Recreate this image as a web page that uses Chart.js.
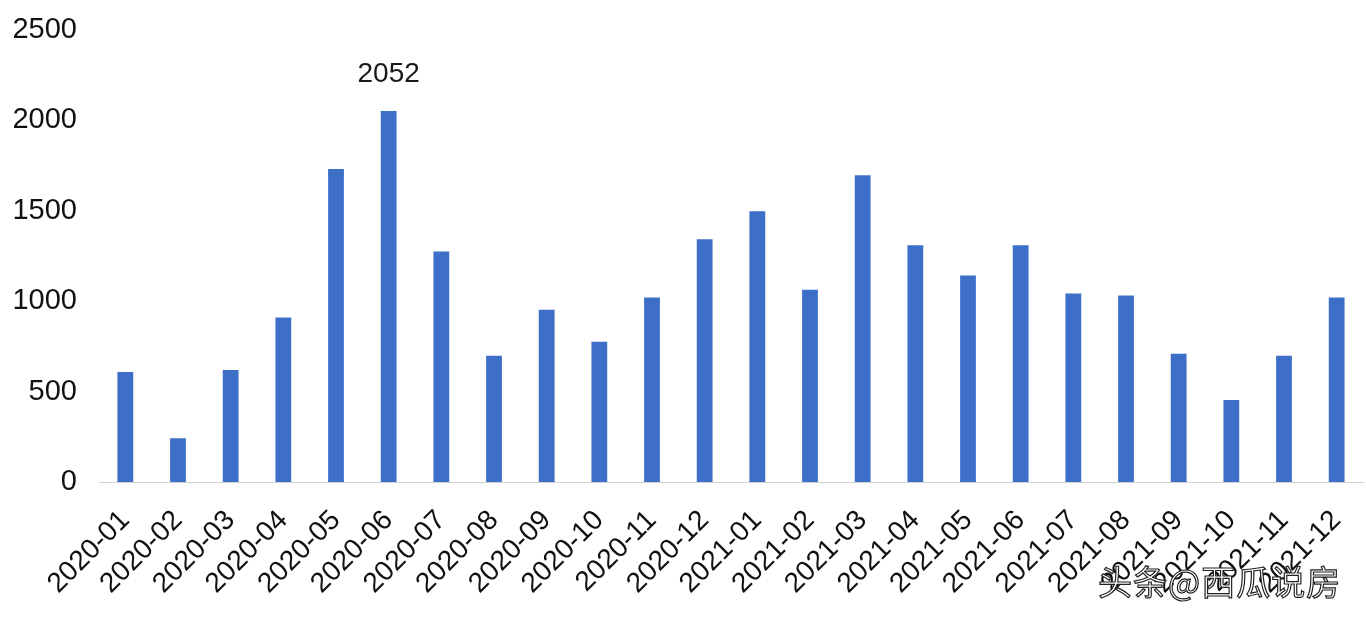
<!DOCTYPE html>
<html>
<head>
<meta charset="utf-8">
<script src="https://cdn.jsdelivr.net/npm/chart.js@4/dist/chart.umd.min.js"></script>
<style>
    html, body { margin: 0; padding: 0; background: #ffffff; }
    #wrap { position: relative; width: 1366px; height: 620px; }
    #mark {
        position: absolute; left: 1098px; top: 556px;
        font-family: "Noto Sans CJK SC", sans-serif; font-size: 34px;
        color: #ffffff; -webkit-text-stroke: 1.2px #222222;
        letter-spacing: 1px; white-space: nowrap;
    }
</style>
</head>
<body>
<div id="wrap">
    <canvas id="salesChart" width="1366" height="620"></canvas>
    <div id="mark">头条@西瓜说房</div>
</div>
<script>
const months = ['2020-01','2020-02','2020-03','2020-04','2020-05','2020-06',
                '2020-07','2020-08','2020-09','2020-10','2020-11','2020-12',
                '2021-01','2021-02','2021-03','2021-04','2021-05','2021-06',
                '2021-07','2021-08','2021-09','2021-10','2021-11','2021-12'];
const values = [609, 242, 620, 910, 1731, 2052, 1275, 698, 953, 776, 1020, 1342,
                1497, 1064, 1697, 1309, 1142, 1309, 1042, 1031, 709, 453, 698, 1020];
const labeledIndex = [5];   // only the peak carries a value label
const yMax = 2500;
const yStep = 500;

const font = "Liberation Sans, Arial, sans-serif";

// value label above the peak bar
const peakLabel = {
    id: 'peakLabel',
    afterDatasetsDraw(chart) {
        const ctx = chart.ctx;
        const meta = chart.getDatasetMeta(0);
        ctx.save();
        ctx.font = '28px ' + font;
        ctx.fillStyle = '#1a1a1a';
        ctx.textAlign = 'center';
        ctx.textBaseline = 'bottom';
        labeledIndex.forEach(function (i) {
            const bar = meta.data[i];
            ctx.fillText(String(values[i]), bar.x, bar.y - 23);
        });
        ctx.restore();
    }
};

const ctx = document.getElementById('salesChart').getContext('2d');
new Chart(ctx, {
    type: 'bar',
    data: {
        labels: months,
        datasets: [{
            data: values,
            backgroundColor: '#3d6fc8',
            categoryPercentage: 1,
            barPercentage: 0.3
        }]
    },
    options: {
        responsive: false,
        animation: false,
        layout: { padding: { top: 30, right: 3, left: 0, bottom: 0 } },
        plugins: { legend: { display: false }, tooltip: { enabled: false } },
        scales: {
            x: {
                grid: { display: false, drawTicks: false },
                border: { display: true, color: '#d0d0d0', width: 1 },
                ticks: {
                    autoSkip: false, minRotation: 45, maxRotation: 45,
                    padding: 22, color: '#111111',
                    font: { family: font, size: 28 }
                },
                afterFit(scale) {
                    scale.height = 138;
                    scale.paddingLeft = 0;
                    scale.paddingRight = 0;
                }
            },
            y: {
                min: 0, max: yMax,
                grid: { display: false, drawTicks: false },
                border: { display: false },
                ticks: {
                    stepSize: yStep, padding: 22, color: '#111111',
                    font: { family: font, size: 29 },
                    callback: function (v) { return String(v); }
                },
                afterFit(scale) {
                    scale.width = 99;
                    // let layout padding decide the top, not the tick padding
                    scale.paddingTop = 0;
                    scale.paddingBottom = 0;
                }
            }
        }
    },
    plugins: [peakLabel]
});
</script>
</body>
</html>
